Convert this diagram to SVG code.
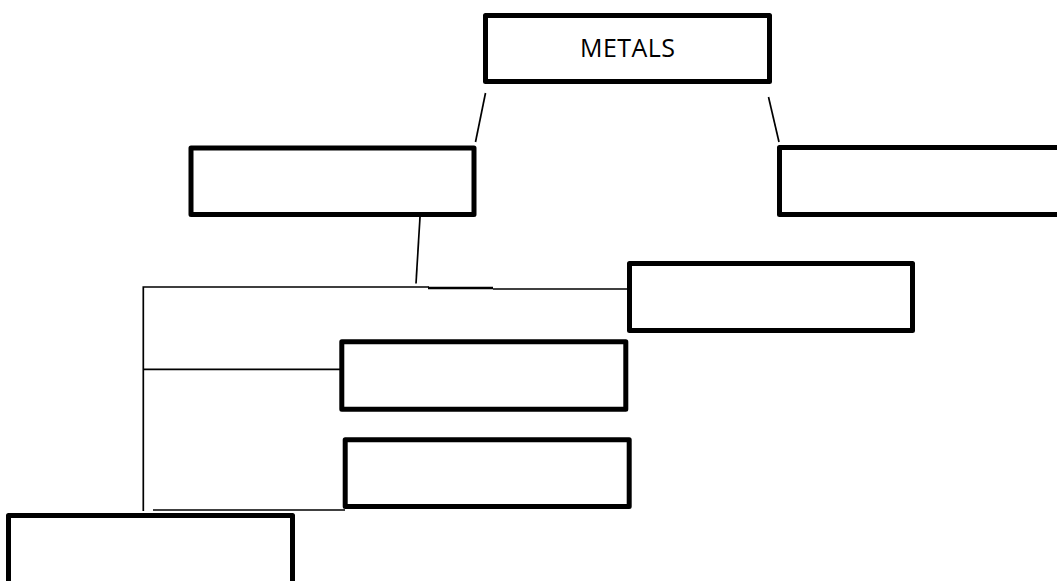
<svg xmlns="http://www.w3.org/2000/svg" width="1057" height="581" viewBox="0 0 1057 581">
<style>
.box{fill:#fff;stroke:#000;stroke-width:5;stroke-linejoin:round}
.ln{stroke:#000;stroke-width:1.7;fill:none}
.lbl{font-family:"Open Sans","Liberation Sans",sans-serif;font-size:25px;fill:#000}
</style>
<rect width="1057" height="581" fill="#fff"/>
<g id="connectors">
<line class="ln" x1="485.5" y1="93" x2="475.5" y2="142"/>
<line class="ln" x1="768.5" y1="97" x2="779" y2="142"/>
<line class="ln" x1="420" y1="217" x2="416" y2="283.5"/>
<polyline class="ln" points="143.3,511 143.3,287 429,287"/>
<line x1="428" y1="288" x2="493" y2="288" stroke="#000" stroke-width="2.6"/>
<line class="ln" x1="493" y1="289" x2="629" y2="289"/>
<line class="ln" x1="144" y1="369.3" x2="341" y2="369.3"/>
<line class="ln" x1="153" y1="510" x2="345" y2="510"/>
</g>
<g id="metals"><rect class="box" x="485.5" y="15.5" width="284" height="66"/><text class="lbl" x="627.5" y="57" text-anchor="middle" textLength="95">METALS</text></g>
<g id="boxA"><rect class="box" x="191" y="148" width="283" height="66.5"/></g>
<g id="boxB"><rect class="box" x="779.5" y="147.5" width="300" height="67"/></g>
<g id="boxC"><rect class="box" x="629.5" y="263.5" width="283" height="67"/></g>
<g id="boxD"><rect class="box" x="341.8" y="341.8" width="284" height="67.5"/></g>
<g id="boxE"><rect class="box" x="345.2" y="439.8" width="284" height="66.7"/></g>
<g id="boxF"><rect class="box" x="8.5" y="515.5" width="284" height="100"/></g>
</svg>
